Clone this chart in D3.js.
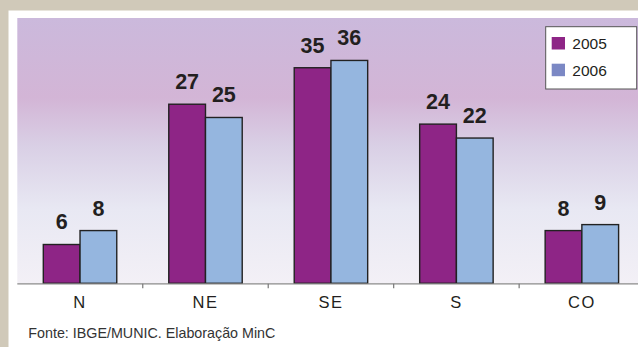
<!DOCTYPE html>
<html>
<head>
<meta charset="utf-8">
<script src="https://cdn.jsdelivr.net/npm/d3@7"></script>
<style>
html,body{margin:0;padding:0;background:#fff;}
svg{display:block;}
</style>
</head>
<body>
<script>
// ---- data ----
const categories = ["N", "NE", "SE", "S", "CO"];
const seriesNames = ["2005", "2006"];
// bar heights
const values2005 = [5.85, 27.0, 32.5, 24.0, 7.95];
const values2006 = [7.95, 25.0, 33.6, 21.9, 8.85];
// value labels as printed in the picture
const labels2005 = ["6", "27", "35", "24", "8"];
const labels2006 = ["8", "25", "36", "22", "9"];
const barColors = ["#8e2586", "#95b6df"];
const legendColors = ["#8e2586", "#7b88c4"];
const sourceText = "Fonte: IBGE/MUNIC. Elaboração MinC";

const W = 638, H = 347;
const svg = d3.select("body").append("svg").attr("width", W).attr("height", H);

// frame
svg.append("rect").attr("x",0).attr("y",0).attr("width",W).attr("height",H).attr("fill","#fff");
svg.append("rect").attr("x",0).attr("y",0).attr("width",W).attr("height",10.5).attr("fill","#d0c9b9");
svg.append("rect").attr("x",0).attr("y",0).attr("width",8.5).attr("height",H).attr("fill","#d0c9b9");

const plot = {left: 17.3, right: 644.6, top: 18, bottom: 283.3};

// gradient background
const defs = svg.append("defs");
const grad = defs.append("linearGradient").attr("id","bg").attr("x1",0).attr("y1",0).attr("x2",0).attr("y2",1);
[[0,"#cbb9dc"],[0.3,"#d3b5d6"],[0.48,"#d9cfe5"],[0.72,"#e8e8f3"],[1,"#f3f0f6"]].forEach(([o,c]) =>
  grad.append("stop").attr("offset",o).attr("stop-color",c));
svg.append("rect").attr("x",plot.left).attr("y",plot.top)
  .attr("width",plot.right-plot.left).attr("height",plot.bottom-plot.top).attr("fill","url(#bg)");

const x0 = d3.scaleBand().domain(categories).range([plot.left, plot.right]).paddingInner(0).paddingOuter(0);
const x1 = d3.scaleBand().domain(seriesNames).range([0, x0.bandwidth()]).paddingInner(0).paddingOuter(0.708);
const y = d3.scaleLinear().domain([0, 40]).range([plot.bottom, plot.top]);

const rows = categories.map((c,i) => ({cat:c, vals:[
  {s:"2005", v:values2005[i], l:labels2005[i], k:0},
  {s:"2006", v:values2006[i], l:labels2006[i], k:1}]}));

const g = svg.append("g");
const grp = g.selectAll("g.cat").data(rows).join("g").attr("transform", d => `translate(${x0(d.cat)},0)`);
grp.selectAll("rect").data(d => d.vals).join("rect")
  .attr("x", d => x1(d.s)).attr("y", d => y(d.v))
  .attr("width", x1.bandwidth()).attr("height", d => y(0) - y(d.v))
  .attr("fill", d => barColors[d.k]).attr("stroke","#222").attr("stroke-width",1.4);
grp.selectAll("text").data(d => d.vals).join("text")
  .attr("x", d => x1(d.s) + x1.bandwidth()/2).attr("y", d => y(d.v) - 15)
  .attr("text-anchor","middle").attr("font-family","Liberation Sans, Arial, sans-serif")
  .attr("font-weight","bold").attr("font-size",21.5).attr("fill","#231f20").text(d => d.l);

// x axis
const axis = svg.append("g").attr("transform",`translate(0,${plot.bottom})`);
axis.append("line").attr("x1",plot.left).attr("x2",W).attr("y1",0.5).attr("y2",0.5).attr("stroke","#8a8a8a").attr("stroke-width",1.2);
axis.selectAll("line.tick").data(categories.slice(1)).join("line").attr("class","tick")
  .attr("x1", d => x0(d)).attr("x2", d => x0(d)).attr("y1",0.5).attr("y2",5).attr("stroke","#777").attr("stroke-width",1.2);
axis.selectAll("text").data(categories).join("text")
  .attr("x", d => x0(d) + x0.bandwidth()/2).attr("y", 25)
  .attr("text-anchor","middle").attr("font-family","Liberation Sans, Arial, sans-serif")
  .attr("font-size",16.5).attr("letter-spacing","1.5px").attr("fill","#231f20").text(d => d);

// legend
const lg = svg.append("g");
lg.append("rect").attr("x",545.7).attr("y",26.7).attr("width",91).attr("height",62.3)
  .attr("fill","#fff").attr("stroke","#555").attr("stroke-width",1);
seriesNames.forEach((s,i) => {
  lg.append("rect").attr("x",551.7).attr("y",37 + i*26.7).attr("width",13.3).attr("height",12.5).attr("fill",legendColors[i]);
  lg.append("text").attr("x",572.3).attr("y",49 + i*26.7).attr("font-family","Liberation Sans, Arial, sans-serif")
    .attr("font-size",15.5).attr("fill","#231f20").text(s);
});

// source
svg.append("text").attr("x",28.3).attr("y",337.5).attr("font-family","Liberation Sans, Arial, sans-serif")
  .attr("font-size",14.3).attr("fill","#333").text(sourceText);
</script>
</body>
</html>
